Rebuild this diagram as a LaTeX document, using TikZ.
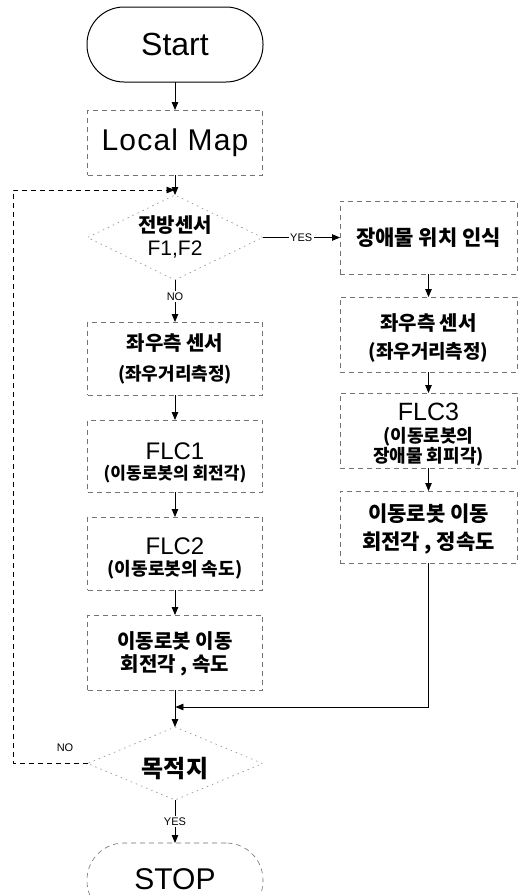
\documentclass[tikz,border=0pt]{standalone}
\usepackage{fontspec}
\setmainfont{Liberation Sans}
\newfontfamily\kr{Noto Sans CJK KR}
\usetikzlibrary{arrows.meta,shapes.geometric}
\begin{document}
\begin{tikzpicture}[x=1pt,y=-1pt,
  every node/.style={inner sep=0pt, outer sep=0pt},
  term/.style={draw=black, line width=1pt, rounded corners=37pt, minimum width=176pt, minimum height=75pt},
  pbox/.style={draw=black!55, line width=0.6pt, dash pattern=on 5pt off 4pt, minimum width=175pt},
  rbox/.style={pbox, minimum width=177pt},
  dec/.style={diamond, draw=black!45, line width=0.6pt, dash pattern=on 1.5pt off 4pt, minimum width=175pt},
  lat/.style={anchor=base, font=\fontsize{#1}{#1}\selectfont},
  han/.style={anchor=base, font=\kr\bfseries\fontsize{#1}{#1}\selectfont},
  flow/.style={draw=black, line width=0.8pt, -{Triangle[length=8pt,width=6.5pt]}},
  lab/.style={font=\fontsize{11pt}{11pt}\selectfont, fill=white, inner sep=1.5pt},
]
\useasboundingbox (0,0) rectangle (522,895);
\fill[white] (0,0) rectangle (522,895);
\clip (0,0) rectangle (522,895);

% left column
\node[term, font=\fontsize{32}{32}\selectfont] (start) at (175,44.5) {Start};
\node[pbox, minimum height=65pt, font=\fontsize{30}{30}\selectfont\addfontfeature{LetterSpace=4}] (lmap) at (175,142.5) {Local Map};

\node[dec, minimum height=85pt] (d1) at (175,237.5) {};
\node[han=20] (d1a) at (175,232) {전방센서};
\node[lat=21] (d1b) at (175,255) {F1,F2};

\node[pbox, minimum height=73pt] (sens) at (175,358.5) {};
\node[han=20] (sensa) at (175,350) {좌우측 센서};
\node[han=18] (sensb) at (175,380) {(좌우거리측정)};

\node[pbox, minimum height=72pt] (flc1) at (175,456) {};
\node[lat=24] (flc1a) at (175,459) {FLC1};
\node[han=17] (flc1b) at (175,479) {(이동로봇의 회전각)};

\node[pbox, minimum height=73pt] (flc2) at (175,553.5) {};
\node[lat=24] (flc2a) at (175,554) {FLC2};
\node[han=18] (flc2b) at (175,575) {(이동로봇의 속도)};

\node[pbox, minimum height=75pt] (move1) at (175,652.5) {};
\node[han=20] (move1a) at (175,648) {이동로봇 이동};
\node[han=20] (move1b) at (175,671) {회전각 , 속도};

\node[dec, minimum height=73pt] (d2) at (175,763.5) {};
\node[han=24] (d2a) at (175,777) {목적지};

\node[term, draw=black!55, line width=0.6pt, dash pattern=on 5pt off 4pt] (stop) at (175,880.5) {};
\node[lat=30] (stopa) at (175,889) {STOP};

% right column
\node[rbox, minimum height=73pt, font=\kr\bfseries\fontsize{21}{21}\selectfont] (obst) at (428.5,237.5) {장애물 위치 인식};

\node[rbox, minimum height=75pt] (rsens) at (428.5,334.5) {};
\node[han=20] (rsensa) at (428.5,330) {좌우측 센서};
\node[han=19] (rsensb) at (428.5,358) {(좌우거리측정)};

\node[rbox, minimum height=75pt] (flc3) at (428.5,430.5) {};
\node[lat=25] (flc3a) at (428.5,420) {FLC3};
\node[han=18] (flc3b) at (428.5,442) {(이동로봇의};
\node[han=18] (flc3c) at (428.5,462) {장애물 회피각)};

\node[rbox, minimum height=72pt] (move2) at (428.5,527) {};
\node[han=21] (move2a) at (428.5,521) {이동로봇 이동};
\node[han=21] (move2b) at (428.5,549) {회전각 , 정속도};

% connectors
\draw[flow] (start) -- (lmap);
\draw[flow] (lmap) -- (d1);
\draw[flow] (d1) -- node[lab, pos=0.4] (no1) {NO} (sens);
\draw[flow] (d1) -- node[lab, pos=0.5] (yes1) {YES} (obst);
\draw[flow] (sens) -- (flc1);
\draw[flow] (flc1) -- (flc2);
\draw[flow] (flc2) -- (move1);
\draw[flow] (move1) -- (d2);
\draw[flow] (d2) -- node[lab] (yes2) {YES} (stop);
\draw[flow] (obst) -- (rsens);
\draw[flow] (rsens) -- (flc3);
\draw[flow] (flc3) -- (move2);
\coordinate (join) at (175.4,707);
\draw[flow] (move2.south) |- (join);
\coordinate (lcorner) at (13,190);
\coordinate (lend) at (174.6,190);
\draw[flow, dash pattern=on 5pt off 4pt, line width=0.6pt] (d2.west) -| (lcorner) -- (lend);
\node[font=\fontsize{11}{11}\selectfont] (no2) at (65,748) {NO};
\end{tikzpicture}
\end{document}
